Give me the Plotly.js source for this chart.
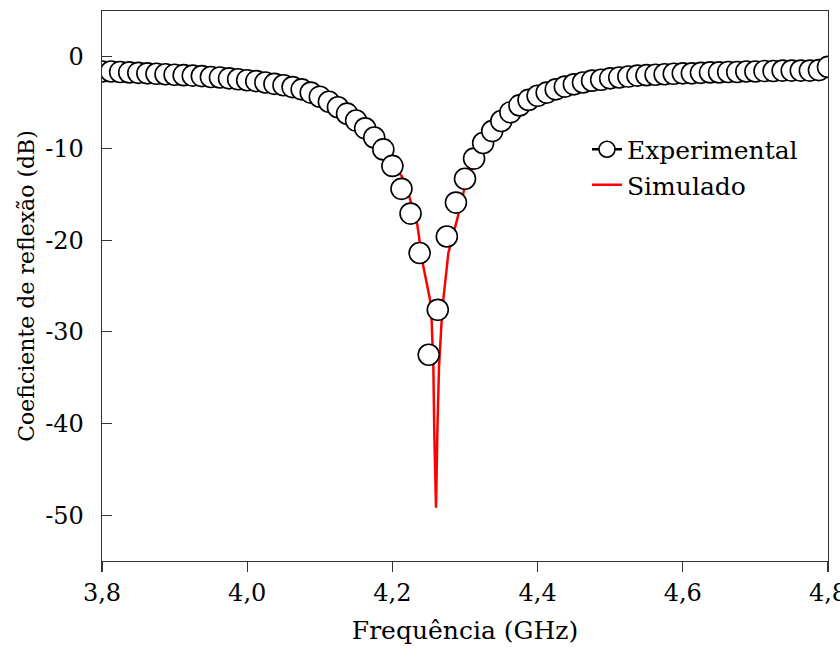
<!DOCTYPE html>
<html>
<head>
<meta charset="utf-8">
<script src="https://cdn.plot.ly/plotly-3.0.1.min.js"></script>
<style>html,body{margin:0;padding:0;background:#fff;}#chart{width:840px;height:648px;}</style>
</head>
<body>
<div id="chart"></div>
<script>
// Experimental: 81 points, 3.8 to 4.8 GHz step 0.0125
const expFreq = [3.8,3.8125,3.825,3.8375,3.85,3.8625,3.875,3.8875,3.9,3.9125,3.925,3.9375,3.95,3.9625,3.975,3.9875,
  4.0,4.0125,4.025,4.0375,4.05,4.0625,4.075,4.0875,4.1,4.1125,4.125,4.1375,4.15,4.1625,4.175,4.1875,
  4.2,4.2125,4.225,4.2375,4.25,4.2625,4.275,4.2875,4.3,4.3125,4.325,4.3375,4.35,4.3625,4.375,4.3875,
  4.4,4.4125,4.425,4.4375,4.45,4.4625,4.475,4.4875,4.5,4.5125,4.525,4.5375,4.55,4.5625,4.575,4.5875,
  4.6,4.6125,4.625,4.6375,4.65,4.6625,4.675,4.6875,4.7,4.7125,4.725,4.7375,4.75,4.7625,4.775,4.7875,4.8];
const expDb = [-1.6,-1.6,-1.65,-1.7,-1.75,-1.8,-1.85,-1.9,-1.95,-2.0,-2.05,-2.1,-2.2,-2.25,-2.35,-2.45,
  -2.55,-2.65,-2.8,-2.95,-3.1,-3.3,-3.55,-3.9,-4.35,-4.9,-5.5,-6.2,-6.95,-7.8,-8.8,-10.1,
  -11.9,-14.4,-17.1,-21.4,-32.5,-27.6,-19.6,-15.9,-13.3,-11.1,-9.4,-8.1,-7.0,-6.05,-5.3,-4.7,
  -4.25,-3.9,-3.55,-3.25,-3.0,-2.8,-2.6,-2.5,-2.35,-2.25,-2.15,-2.05,-2.0,-1.95,-1.9,-1.85,
  -1.8,-1.8,-1.75,-1.7,-1.7,-1.65,-1.65,-1.6,-1.6,-1.55,-1.55,-1.5,-1.5,-1.5,-1.5,-1.45,-1.1];

// Simulated curve
const simFreq = [3.8,3.85,3.9,3.95,4.0,4.05,4.1,4.125,4.15,4.175,4.1875,4.2,4.2135,4.2235,4.2343,4.2417,
  4.2518,4.2541,4.2564,4.2577,4.2601,4.2619,4.2642,4.2679,4.2702,4.2771,4.2896,4.3,4.3125,4.325,
  4.35,4.375,4.4,4.45,4.5,4.55,4.6,4.65,4.7,4.75,4.8];
const simDb = [-1.6,-1.75,-1.95,-2.2,-2.55,-3.1,-4.3,-5.4,-6.8,-8.6,-9.9,-11.6,-13.1,-15.3,-18.3,-22.5,
  -26.5,-28.9,-33.8,-41.0,-49.2,-41.0,-33.8,-28.7,-26.4,-21.4,-17.6,-14.1,-11.6,-9.8,
  -7.2,-5.5,-4.4,-3.1,-2.4,-2.1,-1.9,-1.75,-1.6,-1.5,-1.4];

const xTickVals = [3.8,4.0,4.2,4.4,4.6,4.8];
const xTickText = ['3,8','4,0','4,2','4,4','4,6','4,8'];
const yTickVals = [0,-10,-20,-30,-40,-50];
const yTickText = ['0','-10','-20','-30','-40','-50'];

const FONT = '"DejaVu Serif", serif';

const traces = [
  {x: simFreq, y: simDb, mode: 'lines', name: 'Simulado',
   line: {color: '#ff0000', width: 2.5}, legendrank: 2},
  {x: expFreq, y: expDb, mode: 'markers', name: 'Experimental', showlegend: false,
   marker: {symbol: 'circle', size: 21, color: '#ffffff', line: {color: '#000000', width: 1.6}}},
  {x: [null], y: [null], mode: 'lines+markers', name: 'Experimental', legendrank: 1,
   line: {color: '#000000', width: 2.5},
   marker: {symbol: 'circle', size: 16, color: '#ffffff', line: {color: '#000000', width: 1.6}}}
];

const layout = {
  width: 840, height: 648,
  margin: {l: 102, r: 12, t: 11, b: 87},
  paper_bgcolor: '#ffffff', plot_bgcolor: '#ffffff',
  font: {family: FONT, size: 24, color: '#000000'},
  showlegend: true,
  legend: {x: 0.668, y: 0.79, xanchor: 'left', yanchor: 'top', bgcolor: 'rgba(0,0,0,0)',
           font: {family: FONT, size: 25, color: '#000000'}, tracegroupgap: 0, itemwidth: 30},
  xaxis: {
    range: [3.8, 4.8], tickvals: xTickVals, ticktext: xTickText,
    ticks: 'outside', ticklen: 10, tickwidth: 1.3, tickcolor: '#333',
    showline: true, linecolor: '#333', linewidth: 1.3, mirror: true,
    showgrid: false, zeroline: false, ticklabeloverflow: 'allow',
    tickfont: {family: FONT, size: 24, color: '#000000'},
    title: {text: 'Frequência (GHz)', font: {family: FONT, size: 25, color: '#000000'}, standoff: 15}
  },
  yaxis: {
    range: [-55, 5], tickvals: yTickVals, ticktext: yTickText,
    ticks: 'inside', ticklen: 10, tickwidth: 1.3, tickcolor: '#333',
    showline: true, linecolor: '#333', linewidth: 1.3, mirror: true,
    showgrid: false, zeroline: false,
    tickfont: {family: FONT, size: 24, color: '#000000'}, ticklabelstandoff: 12,
    title: {text: 'Coeficiente de reflexão (dB)', font: {family: FONT, size: 22, color: '#000000'}, standoff: 4}
  }
};

Plotly.newPlot('chart', traces, layout, {displayModeBar: false, staticPlot: true});
</script>
</body>
</html>
